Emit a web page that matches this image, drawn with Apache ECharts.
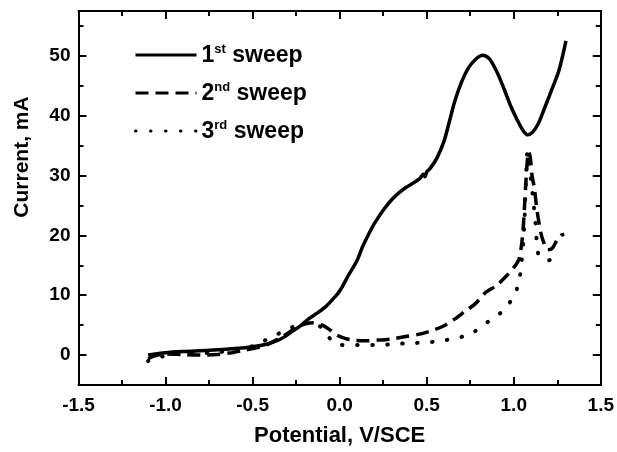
<!DOCTYPE html>
<html>
<head>
<meta charset="utf-8">
<script src="https://cdn.jsdelivr.net/npm/echarts@6/dist/echarts.min.js"></script>
<style>
  html, body { margin: 0; padding: 0; background: #fff; }
  #chart { width: 617px; height: 452px; }
</style>
</head>
<body>
<div id="chart"></div>
<script>
// potential (V/SCE), current (mA)
const sweep1 = [
  [-1.1, 0], [-1.0, 0.4], [-0.9, 0.6], [-0.75, 0.8], [-0.6, 1.1], [-0.5, 1.4],
  [-0.42, 1.8], [-0.36, 2.4], [-0.32, 3.0], [-0.27, 4.0], [-0.22, 5.0], [-0.18, 6.0],
  [-0.13, 7.0], [-0.08, 8.1], [-0.04, 9.3], [0.0, 10.7], [0.05, 13.3], [0.1, 15.8],
  [0.13, 18.0], [0.17, 20.4], [0.2, 22.0], [0.25, 24.2], [0.3, 26.0], [0.34, 27.1],
  [0.38, 28.0], [0.42, 28.7], [0.46, 29.5], [0.48, 30.2], [0.49, 29.8], [0.5, 30.6],
  [0.52, 31.2], [0.56, 33.0], [0.6, 35.8], [0.63, 39.0], [0.66, 42.3], [0.7, 45.6],
  [0.74, 48.0], [0.78, 49.4], [0.82, 50.1], [0.86, 49.5], [0.9, 47.5], [0.94, 44.8],
  [0.98, 41.8], [1.02, 39.3], [1.05, 37.7], [1.08, 36.8], [1.11, 37.3], [1.14, 38.6],
  [1.18, 41.5], [1.22, 44.5], [1.26, 47.6], [1.3, 52.5]
];
const sweep2 = [
  [-1.1, -0.6], [-1.07, -0.2], [-1.0, 0.2], [-0.9, 0.1], [-0.8, 0], [-0.7, 0.1],
  [-0.62, 0.4], [-0.55, 0.8], [-0.48, 1.2], [-0.42, 1.7], [-0.36, 2.6], [-0.3, 3.6],
  [-0.25, 4.6], [-0.2, 5.2], [-0.15, 5.4], [-0.1, 5.0], [-0.06, 4.3], [-0.02, 3.4],
  [0.03, 2.8], [0.08, 2.5], [0.15, 2.4], [0.22, 2.5], [0.3, 2.7], [0.38, 3.1],
  [0.46, 3.5], [0.54, 4.2], [0.6, 4.9], [0.66, 6.0], [0.72, 7.3], [0.78, 8.6],
  [0.84, 10.5], [0.9, 11.6], [0.96, 13.3], [1.0, 14.6], [1.03, 16.0], [1.045, 18.5],
  [1.055, 21.5], [1.062, 25.0], [1.07, 29.0], [1.078, 32.5], [1.085, 34.0], [1.095, 33.0],
  [1.105, 30.0], [1.118, 28.0], [1.13, 25.0], [1.14, 23.0], [1.155, 20.5], [1.17, 19.0],
  [1.195, 17.6], [1.22, 17.8], [1.25, 19.3], [1.27, 20.0], [1.29, 20.2]
];
const sweep3 = [
  [-1.1, -1.0], [-1.05, -0.3], [-1.0, -0.2], [-0.9, 0.3], [-0.8, 0.3], [-0.7, 0.5],
  [-0.6, 0.8], [-0.5, 1.5], [-0.45, 2.2], [-0.4, 2.8], [-0.33, 3.9], [-0.26, 4.8],
  [-0.2, 5.3], [-0.16, 5.5], [-0.12, 5.0], [-0.08, 3.6], [-0.04, 2.3], [0.0, 1.7],
  [0.1, 1.7], [0.2, 1.7], [0.3, 1.8], [0.4, 2.0], [0.5, 2.1], [0.58, 2.4],
  [0.67, 2.8], [0.76, 3.7], [0.85, 5.5], [0.93, 7.2], [1.0, 9.8], [1.03, 12.3],
  [1.045, 15.5], [1.055, 19.0], [1.062, 22.6], [1.066, 26.0], [1.07, 29.0], [1.074, 32.0],
  [1.078, 34.0], [1.088, 32.0], [1.1, 29.0], [1.115, 25.0], [1.125, 22.0], [1.14, 17.0],
  [1.165, 16.0], [1.19, 15.8], [1.22, 16.0], [1.25, 16.4], [1.265, 15.6]
];
const seriesNames = ['1st sweep', '2nd sweep', '3rd sweep'];
const xTicks = [-1.5, -1.0, -0.5, 0.0, 0.5, 1.0, 1.5];
const yTicks = [0, 10, 20, 30, 40, 50];
const yMinorTicks = [-5, 5, 15, 25, 35, 45, 55];

const FONT = 'Liberation Sans, Arial, sans-serif';
const chart = echarts.init(document.getElementById('chart'));

const tickLine = { color: '#000', width: 2 };
const xCommon = {
  type: 'value',
  min: -1.5,
  max: 1.5,
  interval: 0.5,
  axisLine: { onZero: false, lineStyle: { color: '#000', width: 2 } },
  axisTick: { inside: true, length: 8, lineStyle: tickLine },
  minorTick: { show: true, splitNumber: 2, length: 5, lineStyle: tickLine },
  splitLine: { show: false }
};
const yCommon = {
  type: 'value',
  min: -5,
  max: 57.5,
  axisLine: { show: true, onZero: false, lineStyle: { color: '#000', width: 2 } },
  splitLine: { show: false }
};

const sup = (n, s) => '{n|' + n + '}{s|' + s + '}{t| sweep}';
const legendText = {
  '1st sweep': sup('1', 'st'),
  '2nd sweep': sup('2', 'nd'),
  '3rd sweep': sup('3', 'rd')
};

const option = {
  backgroundColor: '#fff',
  animation: false,
  grid: { left: 78.5, right: 13.5, top: 11, bottom: 62 },
  legend: {
    orient: 'vertical',
    left: 134,
    top: 43,
    padding: 0,
    itemWidth: 61,
    itemHeight: 26,
    itemGap: 14,
    data: seriesNames,
    itemStyle: { opacity: 0 },
    lineStyle: { width: 3 },
    formatter: (name) => legendText[name],
    textStyle: {
      rich: {
        n: { fontFamily: FONT, fontWeight: 'bold', fontSize: 23, color: '#000', verticalAlign: 'bottom' },
        s: { fontFamily: FONT, fontWeight: 'bold', fontSize: 13, color: '#000', verticalAlign: 'bottom', padding: [0, 0, 11, 0] },
        t: { fontFamily: FONT, fontWeight: 'bold', fontSize: 23, color: '#000', verticalAlign: 'bottom' }
      }
    }
  },
  graphic: [{
    type: 'text',
    x: 22,
    y: 157,
    rotation: Math.PI / 2,
    style: {
      text: 'Current, mA',
      font: 'bold 21px ' + FONT,
      fill: '#000',
      align: 'center',
      verticalAlign: 'middle'
    }
  }],
  xAxis: [
    Object.assign({}, xCommon, {
      position: 'bottom',
      name: 'Potential, V/SCE',
      nameLocation: 'middle',
      nameGap: 40,
      nameTextStyle: { fontFamily: FONT, fontWeight: 'bold', fontSize: 22, color: '#000' },
      axisLabel: {
        margin: 11,
        fontFamily: FONT, fontWeight: 'bold', fontSize: 19, color: '#000',
        customValues: xTicks,
        formatter: (v) => v.toFixed(1)
      }
    }),
    Object.assign({}, xCommon, { position: 'top', axisLabel: { show: false } })
  ],
  yAxis: [
    Object.assign({}, yCommon, {
      position: 'left',
      axisTick: { inside: true, length: 8, customValues: yTicks, lineStyle: tickLine },
      axisLabel: {
        margin: 8,
        fontFamily: FONT, fontWeight: 'bold', fontSize: 19, color: '#000',
        customValues: yTicks
      }
    }),
    Object.assign({}, yCommon, {
      position: 'left',
      axisTick: { inside: true, length: 5, customValues: yMinorTicks, lineStyle: tickLine },
      axisLabel: { show: false }
    }),
    Object.assign({}, yCommon, {
      position: 'right',
      axisTick: { inside: true, length: 8, customValues: yTicks, lineStyle: tickLine },
      axisLabel: { show: false }
    }),
    Object.assign({}, yCommon, {
      position: 'right',
      axisTick: { inside: true, length: 5, customValues: yMinorTicks, lineStyle: tickLine },
      axisLabel: { show: false }
    })
  ],
  series: [
    {
      name: seriesNames[0],
      type: 'line',
      data: sweep1,
      symbol: 'none',
      smooth: 0.3,
      lineStyle: { color: '#000', width: 3.5 },
      itemStyle: { color: '#000' }
    },
    {
      name: seriesNames[1],
      type: 'line',
      data: sweep2,
      symbol: 'none',
      smooth: 0.3,
      lineStyle: { color: '#000', width: 3.5, type: [13, 7] },
      itemStyle: { color: '#000' }
    },
    {
      name: seriesNames[2],
      type: 'line',
      data: sweep3,
      symbol: 'none',
      smooth: 0.3,
      lineStyle: { color: '#000', width: 4, type: [0.5, 14.5], cap: 'round' },
      itemStyle: { color: '#000' }
    }
  ]
};

chart.setOption(option);
window.addEventListener('resize', chart.resize);
</script>
</body>
</html>
